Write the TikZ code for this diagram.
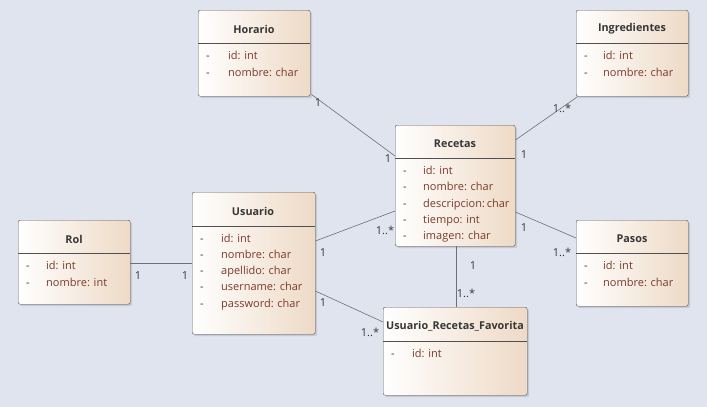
\documentclass[tikz,border=0pt]{standalone}
\usepackage{fontspec}
\setmainfont{Open Sans}
\usetikzlibrary{shadows}
\definecolor{bgc}{RGB}{224,228,239}
\definecolor{tanc}{RGB}{238,218,198}
\definecolor{edgec}{RGB}{80,80,80}
\definecolor{attrc}{RGB}{122,58,42}
\definecolor{linec}{RGB}{110,110,118}
\definecolor{txtc}{RGB}{55,55,55}
\tikzset{
  classbox/.style={draw=edgec, rounded corners=2pt, left color=white, right color=tanc,
    drop shadow={shadow xshift=2pt, shadow yshift=-2pt, opacity=0.25},
    inner sep=0pt, anchor=north west},
  ctitle/.style={font=\fontsize{10.8}{12}\selectfont\bfseries, text=txtc},
  cdash/.style={font=\fontsize{11}{12}\selectfont, text=txtc, anchor=west, inner sep=0pt,
    text height=9pt, text depth=2pt},
  cattr/.style={font=\fontsize{11}{12}\selectfont, text=attrc, anchor=west, inner sep=0pt,
    text height=9pt, text depth=2pt},
  mult/.style={font=\fontsize{11}{12}\selectfont, text=txtc, inner sep=0pt},
  assoc/.style={draw=linec, line width=0.6pt},
  hline/.style={draw=edgec, line width=0.5pt}
}
\begin{document}
\begin{tikzpicture}[x=1pt,y=-1pt]
\fill[bgc] (0,0) rectangle (707,407);
\useasboundingbox (0,0) rectangle (707,407);

% Horario
\node[classbox, minimum width=112pt, minimum height=86pt] (horario) at (198,10) {};
\draw[hline] (198,43) -- (310,43);
\node[ctitle] (horarioT) at (254,29) {Horario};
\node[cdash] at (206,56) {-}; \node[cattr] at (228,56) {id: int};
\node[cdash] at (206,73) {-}; \node[cattr] at (228,73) {nombre: char};

% Ingredientes
\node[classbox, minimum width=112pt, minimum height=86pt] (ingred) at (576,10) {};
\draw[hline] (576,43) -- (688,43);
\node[ctitle] (ingredT) at (632,29) {Ingredientes};
\node[cdash] at (584,56) {-}; \node[cattr] at (603,56) {id: int};
\node[cdash] at (584,73) {-}; \node[cattr] at (603,73) {nombre: char};

% Recetas
\node[classbox, minimum width=120pt, minimum height=121pt] (recetas) at (395,125) {};
\draw[hline] (395,158) -- (515,158);
\node[ctitle] (recetasT) at (455,144) {Recetas};
\node[cdash] at (403,171) {-}; \node[cattr] at (423,171) {id: int};
\node[cdash] at (403,187) {-}; \node[cattr] at (423,187) {nombre: char};
\node[cdash] at (403,204) {-}; \node[cattr] at (423,204) {descripcion:\,char};
\node[cdash] at (403,220) {-}; \node[cattr] at (423,220) {tiempo: int};
\node[cdash] at (403,236) {-}; \node[cattr] at (423,236) {imagen: char};

% Usuario
\node[classbox, minimum width=123pt, minimum height=142pt] (usuario) at (192,192) {};
\draw[hline] (192,226) -- (315,226);
\node[ctitle] (usuarioT) at (253,211) {Usuario};
\node[cdash] at (200,239) {-}; \node[cattr] at (221,239) {id: int};
\node[cdash] at (200,255) {-}; \node[cattr] at (221,255) {nombre: char};
\node[cdash] at (200,271) {-}; \node[cattr] at (221,271) {apellido: char};
\node[cdash] at (200,287) {-}; \node[cattr] at (221,287) {username: char};
\node[cdash] at (200,304) {-}; \node[cattr] at (221,304) {password: char};

% Rol
\node[classbox, minimum width=112pt, minimum height=84pt] (rol) at (18,220) {};
\draw[hline] (18,253) -- (130,253);
\node[ctitle] (rolT) at (74,239) {Rol};
\node[cdash] at (26,266) {-}; \node[cattr] at (46,266) {id: int};
\node[cdash] at (26,283) {-}; \node[cattr] at (46,283) {nombre: int};

% Pasos
\node[classbox, minimum width=112pt, minimum height=86pt] (pasos) at (576,220) {};
\draw[hline] (576,253) -- (688,253);
\node[ctitle] (pasosT) at (632,239) {Pasos};
\node[cdash] at (584,266) {-}; \node[cattr] at (603,266) {id: int};
\node[cdash] at (584,283) {-}; \node[cattr] at (603,283) {nombre: char};

% Usuario_Recetas_Favorita
\node[classbox, minimum width=144pt, minimum height=88pt] (urf) at (383,307) {};
\draw[hline] (383,341) -- (527,341);
\node[ctitle] (urfT) at (455,326) {Usuario\_Recetas\_Favorita};
\node[cdash] at (391,354) {-}; \node[cattr] at (412,354) {id: int};

% connectors
\draw[assoc] ([xshift=1pt,yshift=2pt]horario.south east) -- ([yshift=-31pt]recetas.north west);
\draw[assoc] ([xshift=2pt]ingred.south west) -- ([yshift=-15pt]recetas.north east);
\draw[assoc] ([yshift=-87pt]recetas.north east) -- ([yshift=-18pt]pasos.north west);
\draw[assoc] ([yshift=-49pt]usuario.north east) -- ([yshift=-86pt]recetas.north west);
\draw[assoc] ([yshift=-43pt]rol.north east) -- ([yshift=-71pt]usuario.north west);
\draw[assoc] ([yshift=-99pt]usuario.north east) -- ([yshift=-15pt]urf.north west);
\draw[assoc] ([xshift=1pt]recetas.south) -- ([xshift=1pt]urf.north);

% multiplicities
\node[mult] at (318,103) {1};
\node[mult] at (388,159) {1};
\node[mult] at (562,108) {1..*};
\node[mult] at (524,155) {1};
\node[mult] at (524,228) {1};
\node[mult] at (562,252) {1..*};
\node[mult] at (323,253) {1};
\node[mult] at (385,230) {1..*};
\node[mult] at (138,276) {1};
\node[mult] at (185,276) {1};
\node[mult] at (323,303) {1};
\node[mult] at (370,332) {1..*};
\node[mult] at (473,266) {1};
\node[mult] at (466,293) {1..*};
\end{tikzpicture}
\end{document}
